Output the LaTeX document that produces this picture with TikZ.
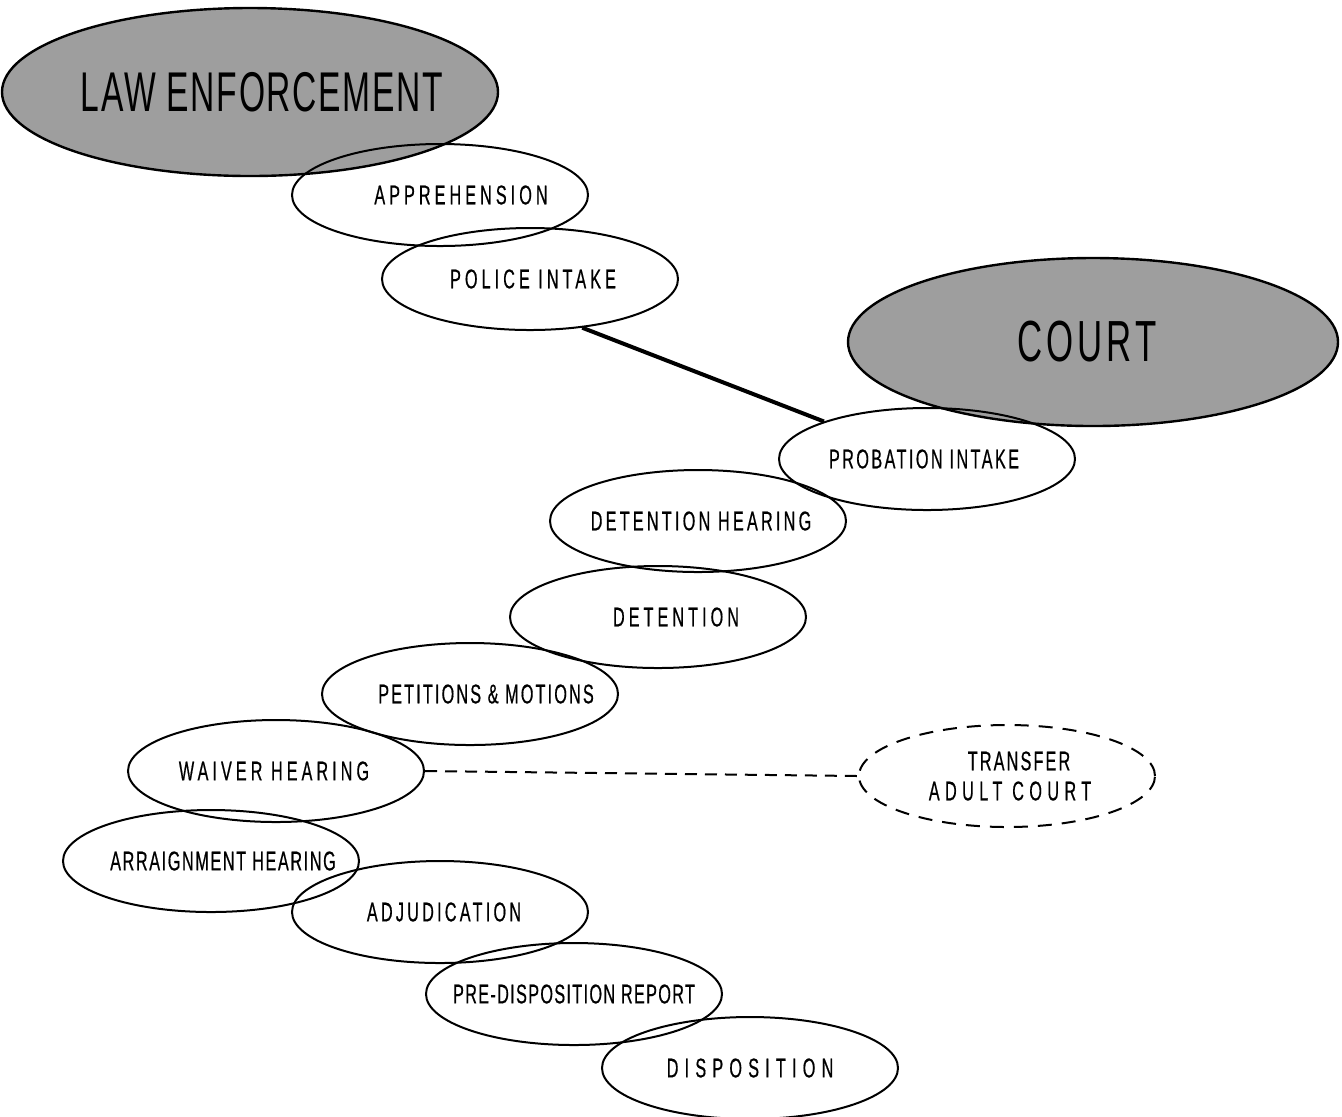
\documentclass[tikz,border=0pt]{standalone}
\usepackage{fontspec}
\usetikzlibrary{shapes.geometric}
\newfontfamily\stepfont{Liberation Sans}[FakeStretch=0.6,FakeBold=0.5]
\newfontfamily\agencyfont{Liberation Sans}[FakeStretch=0.6]
% optional shift (in px of the drawing), letter spacing, text
\newcommand{\ls}[3][0]{\makebox[0pt]{\hspace*{#1pt}\addfontfeatures{LetterSpace=#2}#3}}

\begin{document}
\begin{tikzpicture}[x=0.5pt,y=-0.5pt,
        stage/.style={ellipse,draw,line width=1pt,minimum width=148pt,minimum height=51pt,inner sep=0pt,
            font=\stepfont\fontsize{13.5}{15}\selectfont},
        agency/.style={ellipse,draw,line width=1.2pt,fill=black!38,minimum width=248pt,minimum height=84pt,inner sep=0pt}]
        \useasboundingbox (0,0) rectangle (1342,1116);
        \node(LE) [agency,font=\agencyfont\fontsize{28}{30}\selectfont] at (250,92) {\ls[12]{3}{LAW ENFORCEMENT}};
        \node(CT) [agency,minimum width=245pt,font=\agencyfont\fontsize{29}{31}\selectfont] at (1093,342) {\ls[-6]{7}{COURT}};
        \node(A1) [stage] at (440,195) {\ls[21]{15}{APPREHENSION}};
        \node(A2) [stage] at (530,279) {\ls[3]{15}{POLICE INTAKE}};
        \node(B1) [stage] at (927,459) {\ls[-3]{9}{PROBATION INTAKE}};
        \node(B2) [stage] at (698,521) {\ls[3]{12}{DETENTION HEARING}};
        \node(B3) [stage] at (658,617) {\ls[18]{15}{DETENTION}};
        \node(B4) [stage] at (470,694) {\ls[16]{8}{PETITIONS \& MOTIONS}};
        \node(B5) [stage] at (276,771) {\ls[-2]{15}{WAIVER HEARING}};
        \node(B6) [stage] at (211,861) {\ls[12]{6}{ARRAIGNMENT HEARING}};
        \node(B7) [stage] at (440,912) {\ls[4]{12}{ADJUDICATION}};
        \node(B8) [stage] at (574,994) {\ls{5}{PRE-DISPOSITION REPORT}};
        \node(B9) [stage] at (750,1068) {\ls{23}{DISPOSITION}};
        \node(TR) [stage,dash pattern=on 7pt off 5pt,align=center] at (1007,776) {\ls[12]{8}{TRANSFER}\\\ls[3]{20}{ADULT COURT}};
        \draw[line width=2pt] (A2.-43) -- (B1.160);
        \draw[line width=1pt,dash pattern=on 6pt off 4pt] (B5.east) -- (TR.west);
    \end{tikzpicture}
\end{document}
